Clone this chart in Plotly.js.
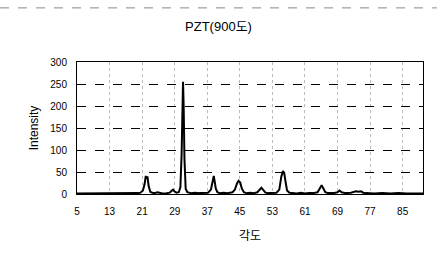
<!DOCTYPE html>
<html><head><meta charset="utf-8">
<script src="https://cdn.plot.ly/plotly-3.0.1.min.js"></script>
<style>html,body{margin:0;padding:0;background:#fff;}#chart{width:437px;height:256px;}</style>
</head><body><div id="chart"></div>
<script>
// Diffraction angle (deg) and intensity
const angle = [5, 8, 12, 16, 19, 20, 20.6, 21.2, 21.6, 21.9, 22.1, 22.3, 22.6, 23.0, 23.5, 24, 24.8, 25.3, 26, 27, 27.8, 28.3, 28.6, 28.9, 29.4, 30.0, 30.4, 30.7, 30.9, 31.05, 31.2, 31.4, 31.7, 32.1, 33, 34, 35, 36, 37.2, 37.9, 38.3, 38.6, 38.8, 39.1, 39.5, 40, 41, 42, 43.2, 43.8, 44.3, 44.7, 45.1, 45.5, 46, 46.6, 47.5, 48.5, 49.3, 49.8, 50.3, 50.8, 51.3, 52, 53, 54, 54.7, 55.2, 55.6, 55.9, 56.2, 56.6, 57.2, 58, 59, 60, 61, 62, 63, 64.1, 64.6, 65.1, 65.5, 66, 66.7, 68, 69, 69.5, 70, 71, 72.3, 72.8, 73.5, 74.2, 74.8, 75.3, 76, 78, 80, 82, 84, 86, 88, 90];
const intensity = [1, 1, 1, 1, 2, 2, 3, 8, 22, 41, 35, 40, 18, 5, 3, 2, 4, 2, 1, 2, 3, 8, 10, 6, 3, 4, 15, 90, 210, 255, 200, 80, 12, 4, 2, 3, 2, 3, 3, 10, 32, 41, 30, 12, 4, 2, 3, 2, 4, 10, 24, 30, 26, 12, 4, 2, 3, 2, 4, 9, 14, 9, 3, 2, 2, 3, 10, 40, 52, 48, 30, 8, 3, 2, 1, 3, 1, 2, 2, 4, 12, 20, 13, 4, 2, 2, 4, 8, 4, 2, 3, 5, 6, 5, 6, 3, 2, 1, 2, 1, 2, 1, 1, 1];
const xTicks = [5, 13, 21, 29, 37, 45, 53, 61, 69, 77, 85];
const yTicks = [0, 50, 100, 150, 200, 250, 300];

const fontFam = 'Arial, "Liberation Sans", "Noto Sans CJK KR", sans-serif';
const data = [{
  x: angle, y: intensity, type: 'scatter', mode: 'lines',
  line: {color: '#000', width: 2}, hoverinfo: 'skip'
}];
const layout = {
  width: 437, height: 256,
  margin: {l: 77, r: 14, t: 62, b: 62},
  paper_bgcolor: '#fff', plot_bgcolor: '#fff',
  showlegend: false,
  title: {text: 'PZT(900도)', x: 0.5, xanchor: 'center', y: 0.895, yanchor: 'middle',
          font: {family: fontFam, size: 13, color: '#000'}},
  xaxis: {
    range: [5, 90], tickvals: xTicks, ticktext: xTicks.map(String),
    showline: true, linecolor: '#000', linewidth: 1, mirror: true,
    showgrid: true, gridcolor: '#bbb', griddash: 'dot', gridwidth: 1,
    zeroline: false, ticks: 'outside', ticklen: 8, tickcolor: 'rgba(0,0,0,0)',
    tickfont: {family: fontFam, size: 10, color: '#000'},
    title: {text: '각도', standoff: 15, font: {family: '"Noto Sans CJK KR", sans-serif', size: 12, color: '#000'}}
  },
  yaxis: {
    range: [0, 300], tickvals: yTicks,
    showline: true, linecolor: '#000', linewidth: 1, mirror: true,
    showgrid: true, gridcolor: '#000', griddash: 'dash', gridwidth: 1,
    zeroline: false, ticks: 'outside', ticklen: 7, tickcolor: 'rgba(0,0,0,0)',
    tickfont: {family: fontFam, size: 10, color: '#000'},
    title: {text: 'Intensity', standoff: 9, font: {family: fontFam, size: 12, color: '#000'}}
  },
  shapes: [
    {type: 'line', xref: 'paper', yref: 'paper', x0: -0.2225, x1: 1.04, y0: 1.41, y1: 1.41,
     line: {color: '#888', width: 1, dash: 'dash'}}
  ]
};
Plotly.newPlot('chart', data, layout, {staticPlot: true, displayModeBar: false});
</script></body></html>
